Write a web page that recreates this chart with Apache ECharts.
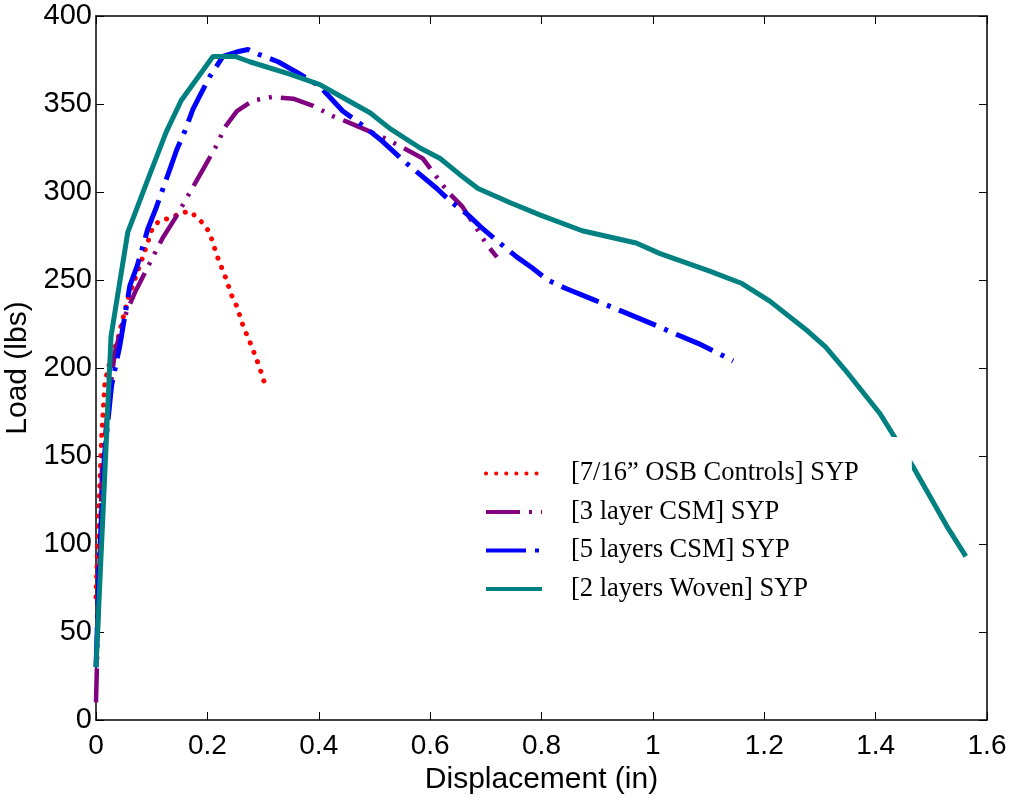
<!DOCTYPE html>
<html><head><meta charset="utf-8">
<script src="https://cdn.jsdelivr.net/npm/echarts@6/dist/echarts.min.js"></script>
<style>html,body{margin:0;padding:0;background:#fff}#c{width:1018px;height:802px}</style>
</head><body><div id="c"></div>
<script>
const names = ['[7/16\u201D OSB Controls] SYP', '[3 layer CSM] SYP', '[5 layers CSM] SYP', '[2 layers Woven] SYP'];
const xTicks = [0, 0.2, 0.4, 0.6, 0.8, 1, 1.2, 1.4, 1.6];
const yTicks = [0, 50, 100, 150, 200, 250, 300, 350, 400];

const osbX = [0, 0.004, 0.01, 0.016, 0.026, 0.038, 0.057, 0.084, 0.102, 0.115, 0.133, 0.151, 0.169, 0.183, 0.196, 0.205, 0.217, 0.232, 0.244, 0.253, 0.264, 0.28, 0.293, 0.305];
const osbY = [70, 110, 160, 192, 205, 215, 239, 263, 280, 284, 285, 288, 289, 285, 281, 276, 264, 252, 241, 235, 224, 212, 201, 189];

const csm3X = [0, 0.004, 0.011, 0.022, 0.034, 0.05, 0.07, 0.102, 0.12, 0.142, 0.16, 0.196, 0.214, 0.232, 0.253, 0.282, 0.316, 0.354, 0.39, 0.426, 0.45, 0.487, 0.522, 0.558, 0.587, 0.632, 0.657, 0.68, 0.702, 0.72];
const csm3Y = [10, 60, 144, 180, 209, 228, 243, 263, 274, 285, 295, 315, 325, 337, 346, 352, 354, 353, 349, 343, 340, 335, 330, 324, 319, 300, 292, 281, 270, 263];

const csm5X = [0, 0.006, 0.015, 0.028, 0.043, 0.061, 0.074, 0.093, 0.108, 0.145, 0.16, 0.174, 0.187, 0.205, 0.228, 0.258, 0.273, 0.294, 0.327, 0.361, 0.402, 0.443, 0.474, 0.51, 0.555, 0.612, 0.639, 0.668, 0.695, 0.725, 0.756, 0.783, 0.811, 0.845, 0.892, 0.946, 1.007, 1.043, 1.081, 1.12, 1.144];
const csm5Y = [30, 90, 150, 190, 213, 247, 258, 279, 291, 324, 335, 347, 355, 366, 377, 380, 381, 378, 374, 368, 360, 346, 339, 330, 317, 302, 294, 287, 279, 271, 263, 257, 250, 245, 239, 232, 224, 219, 214, 208, 204];

const wovenX = [0, 0.027, 0.057, 0.093, 0.126, 0.153, 0.21, 0.25, 0.276, 0.348, 0.402, 0.447, 0.492, 0.528, 0.582, 0.618, 0.653, 0.686, 0.743, 0.797, 0.873, 0.97, 1.013, 1.102, 1.16, 1.21, 1.278, 1.31, 1.345, 1.408, 1.467, 1.53, 1.562];
const wovenY = [30, 218, 277, 307, 334, 352, 377, 377, 374, 367, 361, 353, 345, 336, 325, 319, 310, 302, 294, 287, 278, 271, 265, 255, 248, 238, 221, 212, 199, 174, 144, 109, 93];

const colors = ['#ff0000', '#800080', '#0000ff', '#008080'];
const zip = (xs, ys) => xs.map((x, i) => [x, ys[i]]);

const chart = echarts.init(document.getElementById('c'), null, {renderer: 'canvas'});
const sans = 'Liberation Sans, Arial, sans-serif';
const axisCommon = () => ({
  axisLine: {show: true, onZero: false, lineStyle: {color: '#000', width: 1.5}},
  axisTick: {show: true, inside: true, length: 8, lineStyle: {color: '#000', width: 1}},
  splitLine: {show: false}
});
chart.setOption({
  animation: false,
  backgroundColor: '#fff',
  grid: {left: 96, right: 31, top: 16, bottom: 82, containLabel: false, outerBoundsMode: 'none'},
  legend: {
    left: 470, top: 437, orient: 'vertical', itemGap: 11.5,
    itemWidth: 56, itemHeight: 20,
    backgroundColor: '#fff',
    padding: [23, 53, 20, 14],
    itemStyle: {color: 'transparent', borderColor: 'transparent', borderWidth: 0},
    textStyle: {fontFamily: 'Liberation Serif, Times New Roman, serif', fontSize: 26.5, lineHeight: 20, color: '#000', padding: [0, 0, 0, 24]},
    lineStyle: {width: 4},
    data: names
  },
  xAxis: [
    Object.assign({type: 'value', min: 0, max: 1.6, interval: 0.2, position: 'bottom',
      name: 'Displacement (in)', nameLocation: 'middle', nameGap: 44,
      nameTextStyle: {fontFamily: sans, fontSize: 30, color: '#000'},
      axisLabel: {fontFamily: sans, fontSize: 28, color: '#000', margin: 12}}, axisCommon()),
    Object.assign({type: 'value', min: 0, max: 1.6, interval: 0.2, position: 'top', axisLabel: {show: false}}, axisCommon())
  ],
  yAxis: [
    Object.assign({type: 'value', min: 0, max: 400, interval: 50, position: 'left',
      name: 'Load (lbs)', nameLocation: 'middle', nameGap: 52,
      nameTextStyle: {fontFamily: sans, fontSize: 30, color: '#000'},
      axisLabel: {fontFamily: sans, fontSize: 29, color: '#000', margin: 4}}, axisCommon()),
    Object.assign({type: 'value', min: 0, max: 400, interval: 50, position: 'right', axisLabel: {show: false}}, axisCommon())
  ],
  series: [
    {name: names[0], type: 'line', data: zip(osbX, osbY), showSymbol: false, symbol: 'none', color: colors[0],
      lineStyle: {color: colors[0], width: 5, type: [0.1, 10], cap: 'round'}},
    {name: names[1], type: 'line', data: zip(csm3X, csm3Y), showSymbol: false, symbol: 'none', color: colors[1],
      lineStyle: {color: colors[1], width: 4.5, type: [34, 9, 3, 9, 3, 9]}},
    {name: names[2], type: 'line', data: zip(csm5X, csm5Y), showSymbol: false, symbol: 'none', color: colors[2],
      lineStyle: {color: colors[2], width: 5, type: [40, 9, 4, 9]}},
    {name: names[3], type: 'line', data: zip(wovenX, wovenY), showSymbol: false, symbol: 'none', color: colors[3],
      lineStyle: {color: colors[3], width: 5, type: 'solid'}}
  ]
});
</script></body></html>
